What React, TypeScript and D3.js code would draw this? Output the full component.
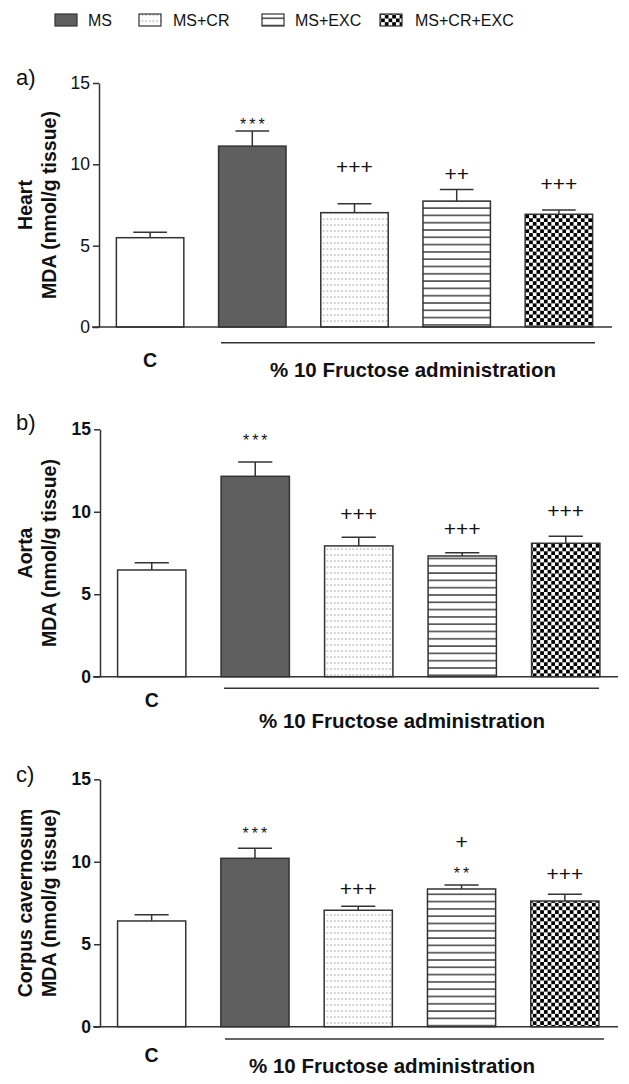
import React, { useEffect, useRef } from "react";
import * as d3 from "d3";

// ---------- data ----------
const categories = ["C", "MS", "MS+CR", "MS+EXC", "MS+CR+EXC"];
const legendLabels = ["MS", "MS+CR", "MS+EXC", "MS+CR+EXC"];
const yTickValues = [0, 5, 10, 15];
const groupLabel = "% 10 Fructose administration";
const controlLabel = "C";

const heartMean = [5.49, 11.12, 7.03, 7.74, 6.93];
const heartErr = [0.33, 0.93, 0.55, 0.72, 0.26];
const heartMarks = [[], ["***"], ["+++"], ["++"], ["+++"]];
const heartMarkLevels = [[], [12.66], [9.85], [9.44], [8.79]];

const aortaMean = [6.47, 12.15, 7.93, 7.32, 8.09];
const aortaErr = [0.44, 0.87, 0.52, 0.2, 0.42];
const aortaMarks = [[], ["***"], ["+++"], ["+++"], ["+++"]];
const aortaMarkLevels = [[], [14.55], [9.87], [8.94], [10.07]];

const ccMean = [6.41, 10.21, 7.06, 8.35, 7.62];
const ccErr = [0.38, 0.61, 0.24, 0.24, 0.41];
const ccMarks = [[], ["***"], ["+++"], ["+", "**"], ["+++"]];
const ccMarkLevels = [[], [11.97], [8.35], [11.22, 9.5], [9.24]];

// ---------- layout / style ----------
const FONT = "'Liberation Sans', Arial, Helvetica, sans-serif";
const INK = "#111";
const LINE = "#333";
const fills = ["#ffffff", "#5f5f5f", "url(#patDots)", "url(#patLines)", "url(#patCheck)"];

const panels = [
  {
    tag: "a)", organ: "Heart", mean: heartMean, err: heartErr, marks: heartMarks, levels: heartMarkLevels,
    axisX: 99, top: 83, bottom: 327, rangeEnd: 610, baseEnd: 612, tickBold: false,
    tagY: 85, cY: 367, bracketY: 342.7, bracketX0: 221, bracketX1: 595, groupX: 413, groupY: 377,
  },
  {
    tag: "b)", organ: "Aorta", mean: aortaMean, err: aortaErr, marks: aortaMarks, levels: aortaMarkLevels,
    axisX: 100, top: 429.3, bottom: 676.7, rangeEnd: 617.5, baseEnd: 618, tickBold: true,
    tagY: 430, cY: 707, bracketY: 688.3, bracketX0: 224, bracketX1: 599, groupX: 402, groupY: 728,
  },
  {
    tag: "c)", organ: "Corpus cavernosum", mean: ccMean, err: ccErr, marks: ccMarks, levels: ccMarkLevels,
    axisX: 100, top: 779.3, bottom: 1026.7, rangeEnd: 616.5, baseEnd: 618, tickBold: true,
    tagY: 782, cY: 1062, bracketY: 1039, bracketX0: 225, bracketX1: 604, groupX: 392, groupY: 1073,
  },
];

const legendSwatchX = [55, 139, 262, 380];
const legendTextX = [88, 173, 295, 415];

function YAxis({ scale, x, bold }: any) {
  const ref = useRef<SVGGElement>(null);
  useEffect(() => {
    const g = d3.select(ref.current as SVGGElement);
    g.call(
      d3.axisLeft(scale).tickValues(yTickValues).tickSize(6).tickSizeOuter(0).tickPadding(3).tickFormat(d3.format("d")) as any
    );
    g.attr("font-family", null).attr("font-size", null);
    g.select(".domain").attr("stroke", LINE).attr("stroke-width", 1.5);
    g.selectAll(".tick line").attr("stroke", LINE).attr("stroke-width", 1.5);
    g.selectAll(".tick text")
      .attr("font-family", FONT)
      .attr("font-size", 17.5)
      .attr("font-weight", bold ? "bold" : "normal")
      .attr("fill", INK);
  }, [scale, bold]);
  return <g ref={ref} transform={`translate(${x},0)`} />;
}

function Mark({ text, cx, cy }: any) {
  const isStar = text.includes("*");
  if (isStar) {
    const fs = 16;
    return (
      <text x={cx + 1.5} y={cy + 0.58 * fs} textAnchor="middle" fontSize={fs} letterSpacing={3}
        fontFamily={FONT} fill={INK}>{text}</text>
    );
  }
  const fs = 21;
  return (
    <text x={cx} y={cy + 0.34 * fs} textAnchor="middle" fontSize={fs} fontFamily={FONT} fill={INK}>{text}</text>
  );
}

function Panel({ p }: any) {
  const y = d3.scaleLinear().domain([0, 15]).range([p.bottom, p.top]);
  const x = d3.scaleBand<string>().domain(categories).range([p.axisX, p.rangeEnd]).paddingInner(0.34).paddingOuter(0.17);
  const bw = x.bandwidth();
  const midY = (p.top + p.bottom) / 2;
  return (
    <g>
      <text x={16} y={p.tagY} fontSize={22} fontFamily={FONT} fill={INK}>{p.tag}</text>
      <g transform={`translate(0,${midY}) rotate(-90)`}>
        <text x={0} y={32} textAnchor="middle" fontSize={19.5} fontWeight="bold" fontFamily={FONT} fill={INK}>{p.organ}</text>
        <text x={0} y={56} textAnchor="middle" fontSize={19.5} fontWeight="bold" fontFamily={FONT} fill={INK}>MDA (nmol/g tissue)</text>
      </g>
      {categories.map((c, i) => {
        const x0 = x(c)!;
        const cx = x0 + bw / 2;
        const yt = y(p.mean[i]);
        const ye = y(p.mean[i] + p.err[i]);
        return (
          <g key={c}>
            <line x1={cx} x2={cx} y1={yt} y2={ye} stroke={LINE} strokeWidth={1.5} />
            <line x1={cx - bw / 4} x2={cx + bw / 4} y1={ye} y2={ye} stroke={LINE} strokeWidth={1.5} />
            <rect x={x0} y={yt} width={bw} height={p.bottom - yt} fill={fills[i]} stroke={LINE} strokeWidth={1.5} />
            {p.marks[i].map((m: string, k: number) => (
              <Mark key={k} text={m} cx={cx} cy={y(p.levels[i][k])} />
            ))}
          </g>
        );
      })}
      <line x1={p.axisX - 7} x2={p.baseEnd} y1={p.bottom} y2={p.bottom} stroke={LINE} strokeWidth={1.5} />
      <YAxis scale={y} x={p.axisX} bold={p.tickBold} />
      <line x1={p.bracketX0} x2={p.bracketX1} y1={p.bracketY} y2={p.bracketY} stroke={LINE} strokeWidth={1.5} />
      <text x={x(categories[0])! + bw / 2} y={p.cY} textAnchor="middle" fontSize={19.5} fontWeight="bold" fontFamily={FONT} fill={INK}>{controlLabel}</text>
      <text x={p.groupX} y={p.groupY} textAnchor="middle" fontSize={20.5} fontWeight="bold" fontFamily={FONT} fill={INK}>{groupLabel}</text>
    </g>
  );
}

export default function App() {
  return (
    <svg width={629} height={1084} style={{ position: "absolute", left: 0, top: 0, display: "block", background: "#fff" }}>
      <defs>
        <pattern id="patDots" patternUnits="userSpaceOnUse" width={3.7} height={6}>
          <rect width={3.7} height={6} fill="#fff" />
          <rect x={1.2} y={2.5} width={1.1} height={1.1} fill="#777" />
        </pattern>
        <pattern id="patLines" patternUnits="userSpaceOnUse" width={8} height={7.3}>
          <rect width={8} height={7.3} fill="#fff" />
          <rect x={0} y={3} width={8} height={1.4} fill="#333" />
        </pattern>
        <pattern id="patCheck" patternUnits="userSpaceOnUse" width={7.4} height={7.4}>
          <rect width={7.4} height={7.4} fill="#fff" />
          <rect x={0} y={0} width={3.7} height={3.7} fill="#000" />
          <rect x={3.7} y={3.7} width={3.7} height={3.7} fill="#000" />
        </pattern>
      </defs>
      <rect width={629} height={1084} fill="#fff" />
      {legendLabels.map((l, i) => (
        <g key={l}>
          <rect x={legendSwatchX[i]} y={14} width={22} height={12} fill={fills[i + 1]} stroke={LINE} strokeWidth={1.2} />
          <text x={legendTextX[i]} y={26} fontSize={16} fontFamily={FONT} fill={INK}>{l}</text>
        </g>
      ))}
      {panels.map((p) => (
        <Panel key={p.tag} p={p} />
      ))}
    </svg>
  );
}
